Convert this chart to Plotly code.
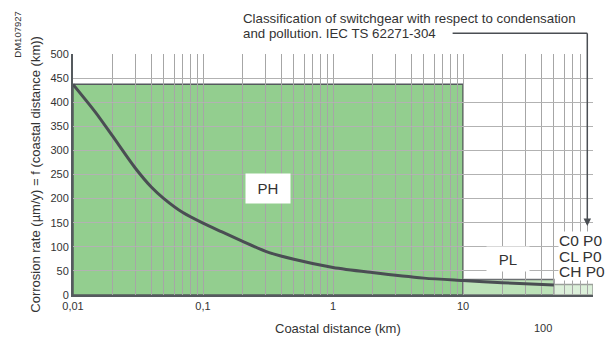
import plotly.graph_objects as go

# ---- data ----
distance_km = [0.01, 0.015, 0.02, 0.03, 0.04, 0.05, 0.07, 0.1, 0.14, 0.2, 0.3, 0.5, 1, 2, 5, 10, 20, 50]
corrosion_rate = [437, 378, 331, 264, 224, 200, 171, 149, 131, 112, 91, 74, 57, 46.5, 35, 30, 25.5, 21]

# zones: (x0, x1, top)
zone_names = ["PH", "PL", "P0"]
zone_x0 = [0.01, 10, 50]
zone_x1 = [10, 50, 100]
zone_top = [437, 32, 22]
zone_fill = ["#93ce8f", "#bce2b8", "#dcf0da"]
zone_line = ["#555a5e", "#6b6f72", "#9aa09a"]

class_labels = ["C0 P0", "CL P0", "CH P0"]
class_label_y = [114, 79.5, 48.3]

x_tick_vals = [0.01, 0.1, 1, 10]
x_tick_text = ["0,01", "0,1", "1", "10"]
y_tick_vals = list(range(0, 501, 50))

# minor grid values for log axis
grid_vals = [m * 10 ** e for e in range(-2, 2) for m in range(1, 10)] + [100]

FONT = "Liberation Sans, Arial, sans-serif"
TXT = "#333333"

fig = go.Figure()

fig.add_trace(go.Scatter(
    x=distance_km, y=corrosion_rate, mode="lines",
    line=dict(color="#4a4e53", width=3, shape="spline", smoothing=0.8),
    hoverinfo="skip", showlegend=False,
))

for x0, x1, top, fc, lc in zip(zone_x0, zone_x1, zone_top, zone_fill, zone_line):
    fig.add_shape(type="rect", xref="x", yref="y", x0=x0, x1=x1, y0=0, y1=top,
                  fillcolor=fc, line=dict(color=lc, width=1.5), layer="below")

tick_text_full = []
for v in grid_vals:
    if v in x_tick_vals:
        tick_text_full.append(x_tick_text[x_tick_vals.index(v)])
    else:
        tick_text_full.append("")

fig.update_xaxes(
    type="log", range=[-2, 2],
    tickmode="array", tickvals=grid_vals, ticktext=tick_text_full,
    showgrid=True, gridcolor="#a6a6a6", gridwidth=1,
    showline=True, linecolor="#555a5e", linewidth=2,
    ticks="", tickfont=dict(family=FONT, size=11, color=TXT),
    zeroline=False,
)
fig.update_yaxes(
    range=[0, 500], tickmode="array", tickvals=y_tick_vals,
    showgrid=True, gridcolor="#b2b2b2", gridwidth=1,
    showline=True, linecolor="#555a5e", linewidth=2,
    ticks="", tickfont=dict(family=FONT, size=11, color=TXT),
    zeroline=False,
)

ann = []
# zone labels
ann.append(dict(x=-0.5, y=220, xref="x", yref="y", text="PH",
                font=dict(family=FONT, size=15, color=TXT), bgcolor="white",
                width=42, height=27))
ann.append(dict(x=1.346, y=73.7, xref="x", yref="y", text="PL",
                font=dict(family=FONT, size=15, color=TXT), bgcolor="white",
                width=40, height=22))
for lab, yv in zip(class_labels, class_label_y):
    ann.append(dict(x=558.3, y=yv, xref="paper", yref="y", text=lab,
                    xanchor="left",
                    font=dict(family=FONT, size=15.5, color=TXT), bgcolor="white",
                    borderpad=0))
# "100" label (offset, as in source)
ann.append(dict(x=542.7, y=327.7, xref="paper", yref="paper", text="100",
                font=dict(family=FONT, size=11, color=TXT)))
# titles
ann.append(dict(x=338, y=328.5, text="Coastal distance (km)",
                font=dict(family=FONT, size=13, color=TXT)))
ann.append(dict(x=35, y=174, text="Corrosion rate (µm/y) = f (coastal distance (km))",
                textangle=-90,
                font=dict(family=FONT, size=13, color=TXT)))
ann.append(dict(x=17, y=35, text="DM107927", textangle=-90,
                font=dict(family=FONT, size=9.5, color=TXT)))
# classification note
ann.append(dict(x=241, y=18, text="Classification of switchgear with respect to condensation",
                xanchor="left",
                font=dict(family=FONT, size=13.3, color=TXT)))
ann.append(dict(x=241, y=33, text="and pollution. IEC TS 62271-304",
                xanchor="left",
                font=dict(family=FONT, size=13.3, color=TXT)))

W, H = 608, 342
L, R, T, B = 73.3, 593, 54, 295


def px_to_paper(a):
    a.setdefault("showarrow", False)
    a.setdefault("xanchor", "center")
    a.setdefault("yanchor", "middle")
    if a.get("xref") is None:
        a["xref"] = "paper"
        a["x"] = (a["x"] - L) / (R - L)
    elif a["xref"] == "paper" and a["x"] > 2:
        a["x"] = (a["x"] - L) / (R - L)
    if a.get("yref") is None:
        a["yref"] = "paper"
        a["y"] = (B - a["y"]) / (B - T)
    elif a["yref"] == "paper" and a["y"] > 2:
        a["y"] = (B - a["y"]) / (B - T)
    return a


ann = [px_to_paper(a) for a in ann]
fig.update_layout(annotations=ann)

# leader line + arrow
lx = (587.3 - L) / (R - L)
ly = (B - 33.3) / (B - T)
fig.add_shape(type="line", xref="paper", yref="paper",
              x0=(452.7 - L) / (R - L), x1=lx, y0=ly, y1=ly,
              line=dict(color="#4a4e53", width=1.5))
fig.add_shape(type="line", xref="paper", yref="paper",
              x0=lx, x1=lx, y0=ly, y1=(B - 220) / (B - T),
              line=dict(color="#4a4e53", width=1.5))
fig.add_annotation(x=lx, y=(B - 226) / (B - T), ax=0, ay=-8, xref="paper", yref="paper",
                   axref="pixel", ayref="pixel", text="", showarrow=True,
                   arrowhead=2, arrowsize=1, arrowwidth=1.5, arrowcolor="#4a4e53")

fig.update_layout(
    width=W, height=H,
    margin=dict(l=L, r=W - R, t=T, b=H - B, pad=0),
    paper_bgcolor="white", plot_bgcolor="white",
    showlegend=False,
)

fig.write_html("out.html", config={"displayModeBar": False},
               post_script="document.body.style.margin='0';document.body.style.padding='0';")
